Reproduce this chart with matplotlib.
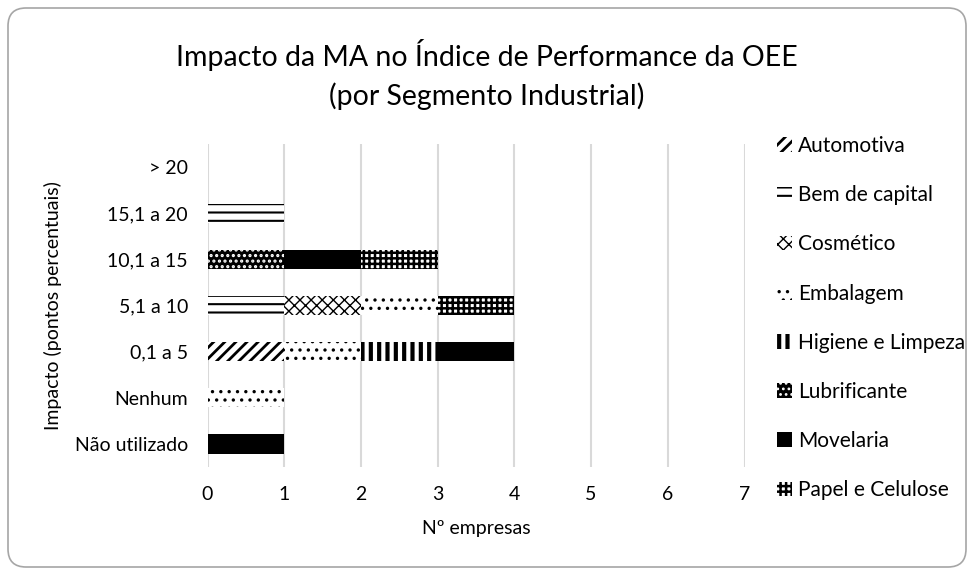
import matplotlib
matplotlib.use("Agg")
import matplotlib.pyplot as plt
from matplotlib.patches import FancyBboxPatch, Patch
from matplotlib.transforms import IdentityTransform
import numpy as np

plt.rcParams['font.family'] = ['Lato', 'DejaVu Sans']

categories = ["Não utilizado", "Nenhum", "0,1 a 5", "5,1 a 10", "10,1 a 15", "15,1 a 20", "> 20"]
segments = ["Automotiva", "Bem de capital", "Cosmético", "Embalagem", "Higiene e Limpeza",
            "Lubrificante", "Movelaria", "Papel e Celulose"]
automotiva     = [0, 0, 1, 0, 0, 0, 0]
bem_de_capital = [0, 0, 0, 1, 0, 1, 0]
cosmetico      = [0, 0, 0, 1, 0, 0, 0]
embalagem      = [0, 1, 1, 1, 0, 0, 0]
higiene        = [0, 0, 1, 0, 0, 0, 0]
lubrificante   = [0, 0, 0, 0, 1, 0, 0]
movelaria      = [1, 0, 1, 0, 1, 0, 0]
papel          = [0, 0, 0, 1, 1, 0, 0]
series = [automotiva, bem_de_capital, cosmetico, embalagem, higiene, lubrificante, movelaria, papel]

# (facecolor, hatchcolor, hatch, hatch linewidth, legend hatch linewidth)
styles = [
    ("white", "black", "///", 2.0, 2.0),
    ("white", "black", "--", 1.5, 1.5),
    ("white", "black", "xxx", 1.0, 1.0),
    ("white", "black", "..", 1.2, 1.2),
    ("white", "black", "||", 3.0, 3.0),
    ("black", "white", "...", 1.5, 1.2),
    ("black", "black", "", 1.0, 1.0),
    ("white", "black", "+++", 1.8, 1.8),
]

fig = plt.figure(figsize=(9.74, 5.71), dpi=100)
fig.patches.append(FancyBboxPatch((8, 4), 958, 559, boxstyle="round,pad=0,rounding_size=18",
                                  transform=IdentityTransform(), facecolor="white", edgecolor="#a6a6a6",
                                  linewidth=1.2, zorder=-10))
ax = fig.add_axes([207.5 / 974, 104 / 571, 537 / 974, 323 / 571])

y = np.arange(len(categories))
left = np.zeros(len(categories))
handles = []
for name, vals, (fc, hc, h, hlw, _) in zip(segments, series, styles):
    plt.rcParams['hatch.linewidth'] = hlw
    vals = np.array(vals, dtype=float)
    bars = ax.barh(y, vals, left=left, height=0.42, color=fc, edgecolor=hc, hatch=h, linewidth=0, zorder=3)
    for b in bars:
        if hasattr(b, "set_hatch_linewidth"):
            b.set_hatch_linewidth(hlw)
    left += vals
    handles.append(Patch(facecolor=fc, edgecolor=hc, hatch=h, linewidth=0, label=name))

txt = "black"
ax.set_xlim(0, 7)
ax.set_ylim(-0.5, 6.5)
ax.set_yticks(y)
ax.set_yticklabels(categories, fontsize=14, color=txt)
ax.set_xticks(range(8))
ax.set_xticklabels([str(i) for i in range(8)], fontsize=14, color=txt)
ax.tick_params(axis='x', length=0, pad=14)
ax.tick_params(axis='y', length=0, pad=14)
ax.grid(axis='x', color="#d9d9d9", linewidth=1.5, zorder=0)
for s in ax.spines.values():
    s.set_visible(False)
ax.set_xlabel("Nº empresas", fontsize=14, color=txt, labelpad=12)
ax.set_ylabel("Impacto (pontos percentuais)", fontsize=14, color=txt, labelpad=9)

fig.text(0.4995, 1 - 55 / 571, "Impacto da MA no Índice de Performance da OEE", ha="center", va="center",
         fontsize=20.5, color=txt)
fig.text(0.4995, 1 - 96 / 571, "(por Segmento Industrial)", ha="center", va="center", fontsize=20.5, color=txt)

plt.rcParams['hatch.linewidth'] = 1.0
leg = fig.legend(handles=handles, loc="upper left", bbox_to_anchor=(777 / 974, 1 - 136 / 571), frameon=False,
                 fontsize=15, labelcolor=txt, handlelength=0.7, handleheight=0.7, handletextpad=0.3,
                 labelspacing=1.4, borderaxespad=0, borderpad=0)
for hnd, st in zip(leg.legend_handles, styles):
    if hasattr(hnd, "set_hatch_linewidth"):
        hnd.set_hatch_linewidth(st[4])

fig.savefig("out.png", dpi=100)
